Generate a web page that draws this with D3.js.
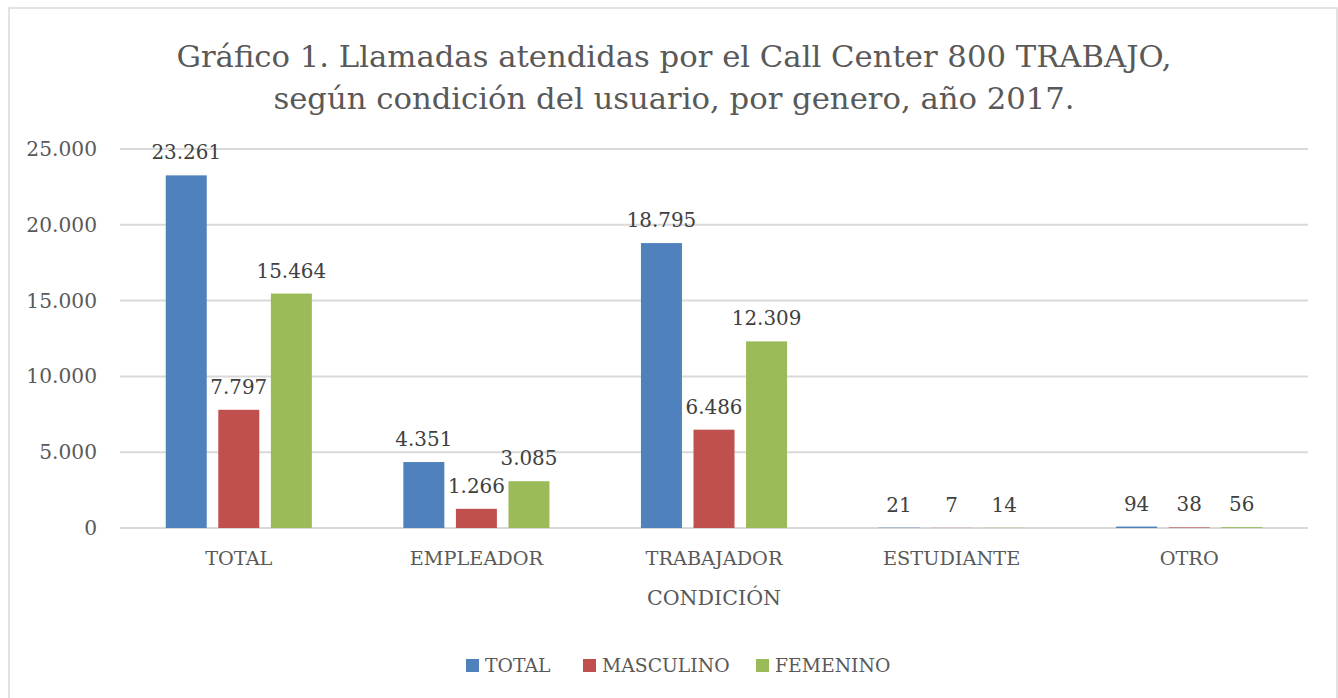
<!DOCTYPE html>
<meta charset="utf-8">
<style>
body { margin: 0; background: #fff; }
text { font-family: "DejaVu Serif", serif; fill: #595959; }
</style>
<svg width="1338" height="698" id="svg"></svg>
<script src="https://d3js.org/d3.v7.min.js"></script>
<script>

var categories = ["TOTAL", "EMPLEADOR", "TRABAJADOR", "ESTUDIANTE", "OTRO"];
var seriesNames = ["TOTAL", "MASCULINO", "FEMENINO"];
var totalVals = [23261, 4351, 18795, 21, 94];
var mascVals = [7797, 1266, 6486, 7, 38];
var femVals = [15464, 3085, 12309, 14, 56];
var yTicks = [0, 5000, 10000, 15000, 20000, 25000];
var colors = ["#4f81bd", "#c0504d", "#9bbb59"];

var svg = d3.select("svg"),
    width = +svg.attr("width"),
    height = +svg.attr("height");

var fmt = function(v) { return d3.format(",")(v).replace(/,/g, "."); };

// chart frame
svg.append("rect")
    .attr("x", 9).attr("y", 8)
    .attr("width", 1328).attr("height", 720)
    .attr("fill", "none")
    .attr("stroke", "#d9d9d9")
    .attr("stroke-width", 1.5);

// title
var title = svg.append("text")
    .attr("text-anchor", "middle")
    .style("font-size", "30.7px");
title.append("tspan").attr("x", 674).attr("y", 67)
    .text("Gráfico 1. Llamadas atendidas por el Call Center 800 TRABAJO,");
title.append("tspan").attr("x", 674).attr("y", 109)
    .text("según condición del usuario, por genero, año 2017.");

var plotL = 120, plotR = 1308, plotT = 149, plotB = 528;

var y = d3.scaleLinear().domain([0, 25000]).range([plotB, plotT]);

var x0 = d3.scaleBand()
    .domain(categories)
    .range([plotL, plotR])
    .paddingInner(0.385)
    .paddingOuter(0.1925);

var x1 = d3.scaleBand()
    .domain(seriesNames)
    .range([0, x0.bandwidth()])
    .paddingInner(0.22);

// gridlines
svg.append("g")
    .selectAll("line")
    .data(yTicks)
    .enter().append("line")
      .attr("x1", plotL).attr("x2", plotR)
      .attr("y1", function(d) { return y(d); })
      .attr("y2", function(d) { return y(d); })
      .attr("stroke", "#d9d9d9")
      .attr("stroke-width", 2);

// y axis labels
var yAxis = d3.axisLeft(y).tickValues(yTicks).tickFormat(fmt).tickSize(0).tickPadding(0);
var gy = svg.append("g")
    .attr("transform", "translate(97,0)")
    .call(yAxis);
gy.select(".domain").remove();
gy.selectAll("text")
    .style("font-size", "20.2px")
    .style("font-family", "DejaVu Serif, serif")
    .attr("fill", "#595959");

var rows = categories.map(function(c, i) {
  return { cat: c, vals: [totalVals[i], mascVals[i], femVals[i]] };
});

var groups = svg.append("g")
    .selectAll("g")
    .data(rows)
    .enter().append("g")
      .attr("transform", function(d) { return "translate(" + x0(d.cat) + ",0)"; });

groups.selectAll("rect")
    .data(function(d) { return d.vals.map(function(v, j) { return { s: seriesNames[j], v: v, j: j }; }); })
    .enter().append("rect")
      .attr("x", function(d) { return x1(d.s); })
      .attr("y", function(d) { return y(d.v); })
      .attr("width", x1.bandwidth())
      .attr("height", function(d) { return plotB - y(d.v); })
      .attr("fill", function(d) { return colors[d.j]; });

groups.selectAll("text")
    .data(function(d) { return d.vals.map(function(v, j) { return { s: seriesNames[j], v: v, j: j }; }); })
    .enter().append("text")
      .attr("x", function(d) { return x1(d.s) + x1.bandwidth() / 2; })
      .attr("y", function(d) { return y(d.v) - 16; })
      .attr("text-anchor", "middle")
      .style("font-size", "19.9px")
      .style("fill", "#404040")
      .text(function(d) { return fmt(d.v); });

// category labels
var xAxis = d3.axisBottom(x0).tickSize(0).tickPadding(0);
var gx = svg.append("g")
    .attr("transform", "translate(0," + (plotB + 37) + ")")
    .call(xAxis);
gx.select(".domain").remove();
gx.selectAll("text")
    .attr("dy", 0)
    .style("font-size", "19.3px")
    .style("font-family", "DejaVu Serif, serif")
    .attr("fill", "#595959");

// axis title
svg.append("text")
    .attr("x", (plotL + plotR) / 2)
    .attr("y", 605)
    .attr("text-anchor", "middle")
    .style("font-size", "20.6px")
    .text("CONDICIÓN");

// legend
var legendX = [466, 583, 756];
var legend = svg.append("g")
    .selectAll("g")
    .data(seriesNames)
    .enter().append("g")
      .attr("transform", function(d, i) { return "translate(" + legendX[i] + ",659)"; });
legend.append("rect")
    .attr("x", 0).attr("y", 0)
    .attr("width", 13).attr("height", 13)
    .attr("fill", function(d, i) { return colors[i]; });
legend.append("text")
    .attr("x", 19).attr("y", 13)
    .style("font-size", "18.8px")
    .text(function(d) { return d; });

</script>
